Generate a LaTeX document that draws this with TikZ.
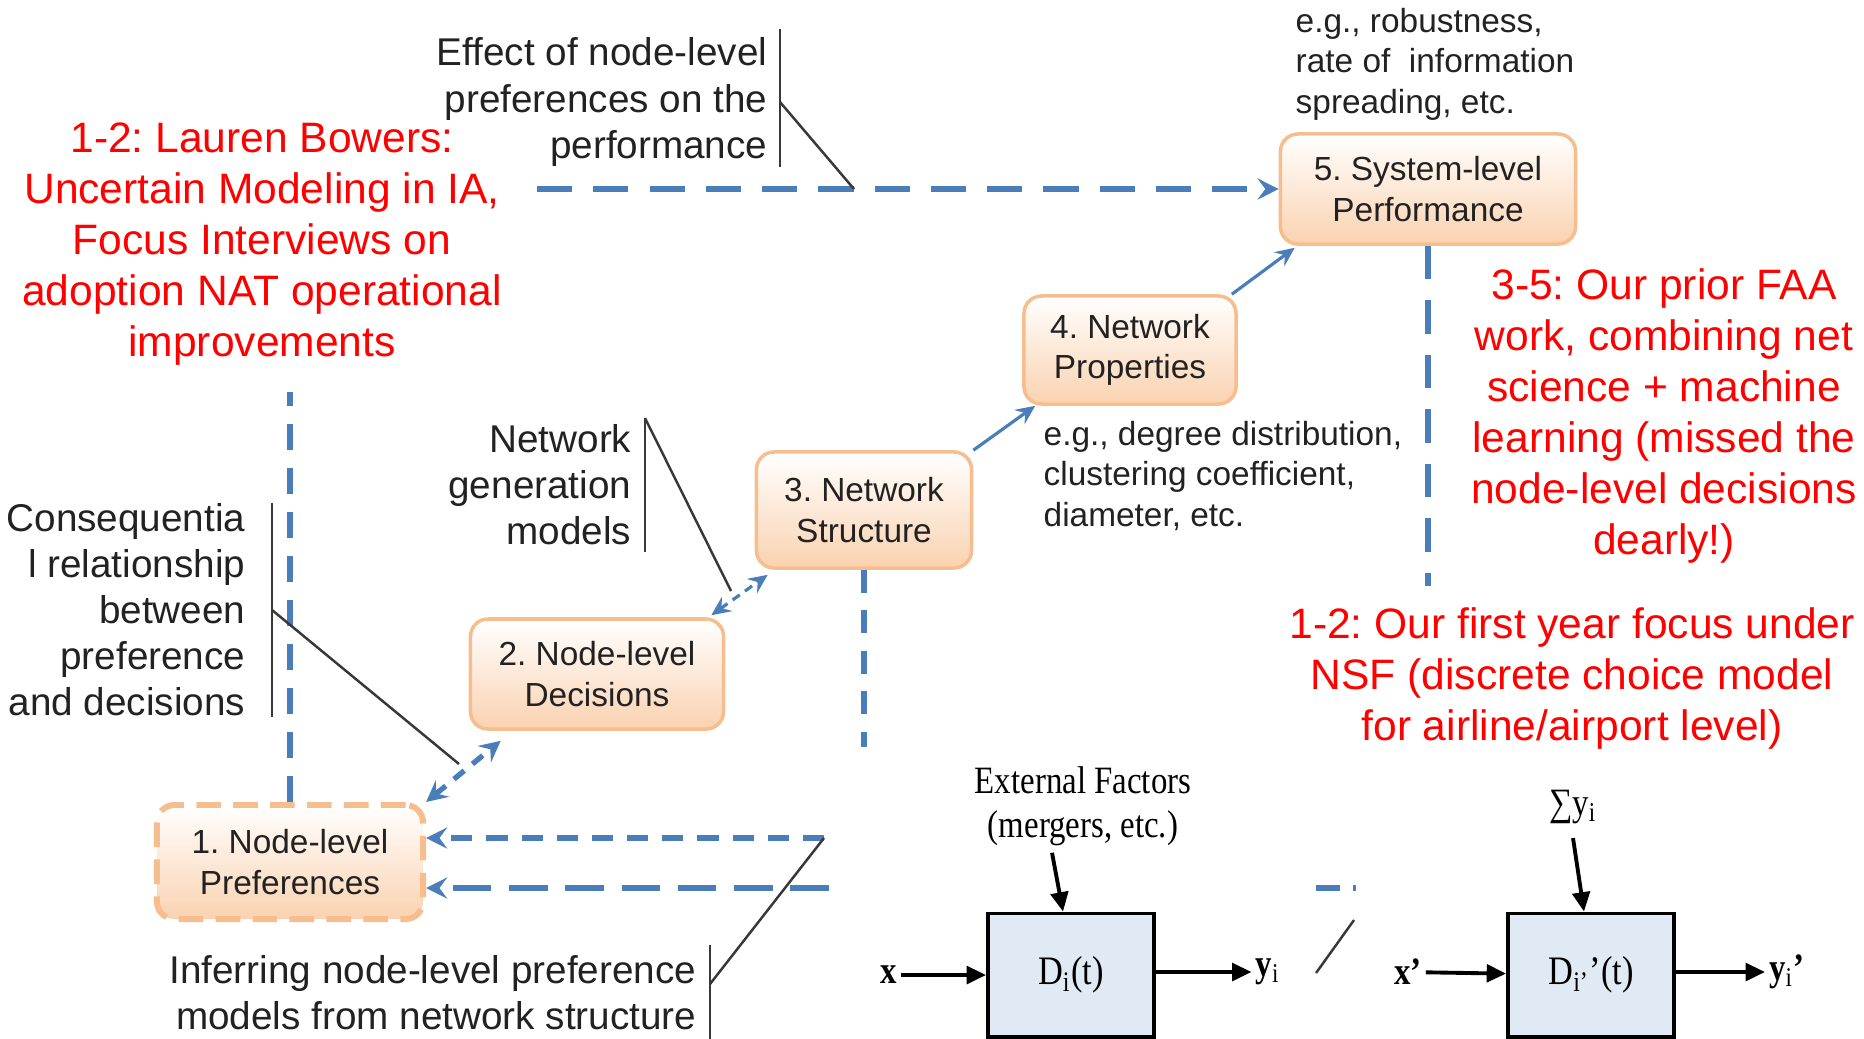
\documentclass[tikz,border=0pt]{standalone}
\usepackage{fontspec}
\setmainfont{Liberation Sans}
\newfontfamily\blockfont[FakeStretch=0.85]{Liberation Serif}
\usepackage{tikz}
\usetikzlibrary{arrows.meta,calc,positioning}
\frenchspacing
\definecolor{linkblue}{HTML}{4A7EBB}
\definecolor{stageedge}{HTML}{F6BE8F}
\definecolor{stagefill}{HTML}{FAD2B0}
\definecolor{notegray}{HTML}{222222}
\definecolor{blockfill}{HTML}{E0EAF5}
\tikzset{% 
  stage/.style={%
    draw=stageedge,
    line width=1pt,
    rounded corners=5pt,
    top color=white,
    bottom color=stagefill,
    text=notegray,
    align=center,
    font=\fontsize{9.5}{11.4}\selectfont
  }
}
\tikzset{% 
  loose stage/.style={%
    stage,
    line width=1.7pt,
    dash pattern=on 7pt off 3.5pt
  }
}
\tikzset{% 
  callout/.style={%
    anchor=east,
    align=right,
    inner sep=0pt,
    text=notegray,
    font=\fontsize{11}{13.1}\selectfont
  }
}
\tikzset{% 
  example/.style={%
    anchor=west,
    align=left,
    inner sep=0pt,
    text=notegray,
    font=\fontsize{9.5}{11.5}\selectfont
  }
}
\tikzset{% 
  remark/.style={%
    align=center,
    inner sep=0pt,
    text=red,
    font=\fontsize{12.1}{14.5}\selectfont
  }
}
\tikzset{% 
  pointer/.style={%
    draw=notegray!90,
    line width=0.7pt
  }
}
\tikzset{% 
  thin link/.style={%
    draw=linkblue,
    line width=0.9pt,
    >={Stealth[length=5.5pt,width=5pt,inset=2pt]}
  }
}
\tikzset{% 
  bold link/.style={%
    draw=linkblue,
    line width=1.5pt,
    >={Stealth[length=6pt,width=6pt,inset=2.2pt]}
  }
}
\tikzset{% 
  block/.style={%
    draw=black,
    line width=1.1pt,
    fill=blockfill,
    minimum width=1.66cm,
    minimum height=1.23cm,
    font=\blockfont\fontsize{11.5}{13}\selectfont
  }
}
\tikzset{% 
  block label/.style={%
    inner sep=1pt,
    align=center,
    font=\blockfont\fontsize{11}{12.5}\selectfont
  }
}
\tikzset{% 
  block arrow/.style={%
    draw=black,
    line width=1.1pt,
    -{Triangle[length=5.5pt,width=5pt]}
  }
}
\begin{document}
\begin{tikzpicture}[x=0.01cm,y=-0.01cm]
  \useasboundingbox (0,0) rectangle (1864,1038);
  \node [loose stage, minimum width=2.66cm, minimum height=1.14cm] (pref) at (290,862) {1. Node-level\\Preferences};
  \node [stage, minimum width=2.53cm, minimum height=1.10cm] (dec) at (597,674) {2. Node-level\\Decisions};
  \node [stage, minimum width=2.15cm, minimum height=1.16cm] (struct) at (864,510) {3. Network\\Structure};
  \node [stage, minimum width=2.12cm, minimum height=1.08cm] (props) at (1130,350) {4. Network\\Properties};
  \node [stage, minimum width=2.95cm, minimum height=1.10cm] (perf) at (1428,189) {5. System-level\\Performance};
  \draw [bold link,<->,dash pattern=on 3.8pt off 3pt] (pref.north east) to ($(dec.south west)+(32,10)$);
  \draw [thin link,<->,dash pattern=on 2.5pt off 1.8pt] ($(dec.north east)+(-14,-2)$) to ($(struct.south west)+(13,5)$);
  \draw [thin link,->] (struct.north east) to ($(props.south west)+(13,0)$);
  \draw [thin link,->] ($(props.north east)+(-6,0)$) to ($(perf.south west)+(16,2)$);

  \coordinate (toptail) at (537,189);
  \coordinate (riser) at (290,392);
  \coordinate (drop3) at (864,747);
  \coordinate (drop5) at (1428,586);
  \coordinate (backA) at (824,838);
  \coordinate (backB) at (829,888);
  \coordinate (gapL) at (1316,888);
  \coordinate (gapR) at (1356,888);
  \draw [bold link,line width=1.6pt,->,dash pattern=on 10pt off 6pt] (toptail) -- (perf.west);
  \draw [bold link,dash pattern=on 7.5pt off 5pt] (pref.north) -- (riser);
  \draw [bold link,dash pattern=on 6.5pt off 5pt] (struct.south) -- (drop3);
  \draw [bold link,dash pattern=on 9.5pt off 6pt] (perf.south) -- (drop5);
  \draw [bold link,->,dash pattern=on 6pt off 4pt] (backA) -- (backA -| pref.east);
  \draw [bold link,line width=1.8pt,->,dash pattern=on 11pt off 5pt] (backB) -- (backB -| pref.east);
  \draw [bold link,line width=1.8pt,dash pattern=on 6.8pt off 3.7pt] (gapL) -- (gapR);

  \node [callout] (effect) at (768,102) {Effect of node-level\\preferences on the\\performance};
  \node [callout] (gen) at (632,485) {Network\\generation\\models};
  \node [callout] (conseq) at (246,610) {Consequentia\\l relationship\\between\\preference\\and decisions};
  \node [callout] (infer) at (697,993) {Inferring node-level preference\\models from network structure};
  \coordinate (effecttip) at (854,189);
  \coordinate (gentip) at (731,591);
  \coordinate (conseqtip) at (459,764);
  \draw [pointer] ([xshift=0.12cm,yshift=0.08cm]effect.north east) -- ([xshift=0.12cm]effect.south east);
  \draw [pointer] ([xshift=0.12cm]effect.east) -- (effecttip);
  \draw [pointer] ([xshift=0.13cm,yshift=0.06cm]gen.north east) -- ([xshift=0.13cm,yshift=-0.06cm]gen.south east);
  \draw [pointer] ([xshift=0.13cm,yshift=0.06cm]gen.north east) -- (gentip);
  \draw [pointer] ([xshift=0.26cm]conseq.north east) -- ([xshift=0.26cm]conseq.south east);
  \draw [pointer] ([xshift=0.26cm]conseq.east) -- (conseqtip);
  \draw [pointer] ([xshift=0.13cm,yshift=0.1cm]infer.north east) -- ([xshift=0.13cm,yshift=-0.1cm]infer.south east);
  \draw [pointer] ([xshift=0.13cm,yshift=0.09cm]infer.east) -- (backA);

  \node [example] (robust) at (1295,64) {e.g., robustness,\\rate of\ \ information\\spreading, etc.};
  \node [example] (degree) at (1043,476) {e.g., degree distribution,\\clustering coefficient,\\diameter, etc.};

  \node [remark] (bowers) at (262,244) {1-2: Lauren Bowers:\\Uncertain Modeling in IA,\\Focus Interviews on\\adoption NAT operational\\improvements};
  \node [remark] (faa) at (1664,416) {3-5: Our prior FAA\\work, combining net\\science + machine\\learning (missed the\\node-level decisions\\dearly!)};
  \node [remark] (nsf) at (1572,678) {1-2: Our first year focus under\\NSF (discrete choice model\\for airline/airport level)};

  % pasted block diagrams
  \node [block] (dleft) at (1071,975) {D\textsubscript{i}(t)};
  \node [block label] (xin) at (889,975) {\textbf{x}};
  \node [block label] (yout) at (1268,972) {\textbf{y}\textsubscript{i}};
  \node [block label] (ext) at (1083,806) {External Factors\\(mergers, etc.)};
  \draw [block arrow] (xin) -- (dleft);
  \draw [block arrow] (dleft.east |- yout) -- (yout);
  \draw [block arrow] ($(ext.south)+(-31,3)$) -- ($(dleft.north)+(-8,0)$);
  \node [block] (dright) at (1591,975) {D\textsubscript{i’}’(t)};
  \node [block label] (xin2) at (1408,972) {\textbf{x’}};
  \node [block label] (yout2) at (1787,972) {\textbf{y}\textsubscript{i}\textbf{’}};
  \node [block label] (sumy) at (1573,807) {∑y\textsubscript{i}};
  \draw [block arrow] (xin2) -- (dright);
  \draw [block arrow] (dright.east |- yout2) -- (yout2);
  \draw [block arrow] ([yshift=-0.1cm]sumy.south) -- ([xshift=-0.07cm]dright.north);
  \coordinate (stubA) at (1316,973);
  \coordinate (stubB) at (1354,920);
  \draw [pointer] (stubA) -- (stubB);
\end{tikzpicture}
\end{document}
